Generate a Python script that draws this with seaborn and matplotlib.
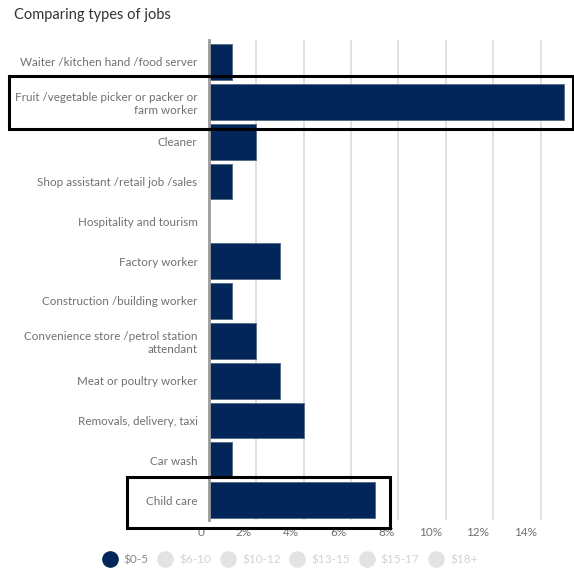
import matplotlib
matplotlib.use("Agg")
import matplotlib.pyplot as plt
import matplotlib.transforms as mtransforms
from matplotlib.patches import Rectangle
from matplotlib.lines import Line2D
import seaborn as sns

#Chart data
jobs = [
    "Waiter /kitchen hand /food server",
    "Fruit /vegetable picker or packer or\nfarm worker",
    "Cleaner",
    "Shop assistant /retail job /sales",
    "Hospitality and tourism",
    "Factory worker",
    "Construction /building worker",
    "Convenience store /petrol station\nattendant",
    "Meat or poultry worker",
    "Removals, delivery, taxi",
    "Car wash",
    "Child care",
]
pay_0_5 = [1, 15, 2, 1, 0, 3, 1, 2, 3, 4, 1, 7]
pay_bands = ["$0-5", "$6-10", "$10-12", "$13-15", "$15-17", "$18+"]
x_ticks = [0, 2, 4, 6, 8, 10, 12, 14]
x_tick_labels = ["0", "2%", "4%", "6%", "8%", "10%", "12%", "14%"]
highlighted = ["Fruit /vegetable picker or packer or\nfarm worker", "Child care"]

NAVY = "#02265a"
LABEL_GREY = "#707070"

sns.set_theme(style="white")
plt.rcParams["font.family"] = ["Lato", "DejaVu Sans"]

fig = plt.figure(figsize=(5.74, 5.81), dpi=100)
ax = fig.add_axes([0.3635, 0.105, 0.624, 0.826])

sns.barplot(x=pay_0_5, y=jobs, color=NAVY, width=0.9, orient="h", saturation=1,
            edgecolor="#5b6e88", linewidth=0.7, ax=ax, zorder=3)

ax.set_xlim(0, 15.1)
ax.set_ylim(11.5, -0.55)
ax.set_xlabel("")
ax.set_ylabel("")

#Gridlines that run down past the axis, with labels sitting left of them
ax.set_xticks(x_ticks)
ax.set_xticklabels([])
ax.xaxis.grid(True, color="#dadada", linewidth=1.2, zorder=0)
ax.tick_params(axis="x", length=16, width=1.2, color="#dadada", direction="out")
lab_trans = mtransforms.blended_transform_factory(ax.transData, ax.transAxes) + \
    mtransforms.ScaledTranslation(-4 / 100, -13 / 100, fig.dpi_scale_trans)
for xv, txt in zip(x_ticks, x_tick_labels):
    ax.text(xv, 0, txt, transform=lab_trans, ha="right", va="center",
            fontsize=8.5, color=LABEL_GREY, clip_on=False)

ax.tick_params(axis="y", length=0, pad=8, labelsize=8.4, labelcolor=LABEL_GREY)
for lab in ax.get_yticklabels():
    lab.set_horizontalalignment("right")
    lab.set_multialignment("right")

for side in ["top", "right", "bottom"]:
    ax.spines[side].set_visible(False)
ax.spines["left"].set_color("#9a9a9a")
ax.spines["left"].set_linewidth(2)
ax.spines["left"].set_zorder(4)

#Black boxes around highlighted rows
trans = mtransforms.blended_transform_factory(fig.transFigure, ax.transData)
boxes = {highlighted[0]: (9 / 574, 573 / 574, -0.64, 0.69),
         highlighted[1]: (127 / 574, 390 / 574, -0.58, 0.70)}
for name, (x0, x1, dy0, dy1) in boxes.items():
    row = jobs.index(name)
    ax.add_patch(Rectangle((x0, row + dy0), x1 - x0, dy1 - dy0, transform=trans,
                           fill=False, edgecolor="black", linewidth=2.2,
                           clip_on=False, zorder=6))

fig.text(14 / 574, 1 - 15 / 581, "Comparing types of jobs", fontsize=10.5,
         color="#333333", va="center", ha="left")

#Legend: only the first band is active
handles = []
for i, band in enumerate(pay_bands):
    handles.append(Line2D([], [], linestyle="none", marker="o", markersize=12,
                          markerfacecolor=NAVY if i == 0 else "#e3e3e3",
                          markeredgecolor="none", label=band))
leg = fig.legend(handles=handles, loc="center", bbox_to_anchor=(0.505, 1 - 560 / 581),
                 ncol=6, frameon=False, fontsize=8.5, handletextpad=0.55,
                 columnspacing=0.75, handlelength=1.3)
for i, txt in enumerate(leg.get_texts()):
    txt.set_color("#8a8a8a" if i == 0 else "#d2d2d2")

fig.savefig("out.png", dpi=100)
plt.close(fig)
